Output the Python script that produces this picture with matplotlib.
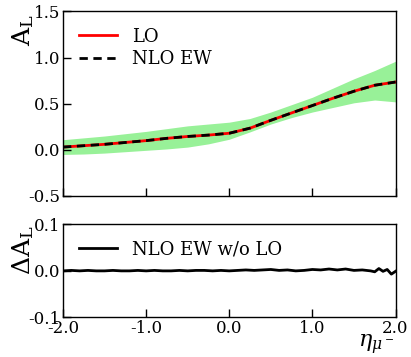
import matplotlib
matplotlib.use("Agg")
import matplotlib.pyplot as plt

# rapidity grid and asymmetry values
eta = [-2.0, -1.75, -1.5, -1.25, -1.0, -0.75, -0.5, -0.25, 0.0,
       0.25, 0.5, 0.75, 1.0, 1.25, 1.5, 1.75, 2.0]
a_lo = [0.030, 0.045, 0.060, 0.080, 0.100, 0.125, 0.145, 0.160, 0.180,
        0.235, 0.320, 0.400, 0.480, 0.560, 0.635, 0.700, 0.735]
a_nlo = [0.030, 0.045, 0.060, 0.080, 0.100, 0.125, 0.145, 0.160, 0.180,
         0.235, 0.320, 0.400, 0.480, 0.560, 0.635, 0.700, 0.735]
band_hi = [0.110, 0.130, 0.150, 0.175, 0.200, 0.230, 0.260, 0.280, 0.300,
           0.340, 0.410, 0.490, 0.570, 0.670, 0.770, 0.860, 0.960]
band_lo = [-0.050, -0.045, -0.035, -0.020, -0.005, 0.010, 0.030, 0.065, 0.115,
           0.195, 0.280, 0.350, 0.410, 0.460, 0.510, 0.540, 0.520]

# difference NLO EW - LO
eta_d = [-2.0, -1.9, -1.8, -1.7, -1.6, -1.5, -1.4, -1.3, -1.2, -1.1, -1.0,
         -0.9, -0.8, -0.7, -0.6, -0.5, -0.4, -0.3, -0.2, -0.1, 0.0,
         0.1, 0.2, 0.3, 0.4, 0.5, 0.6, 0.7, 0.8, 0.9, 1.0,
         1.1, 1.2, 1.3, 1.4, 1.5, 1.6, 1.7, 1.75, 1.8, 1.85, 1.9, 1.95, 2.0]
d_nlo = [0.000, 0.001, 0.000, 0.001, 0.000, 0.000, 0.001, 0.000, 0.000, 0.001, 0.000,
         0.001, 0.000, 0.000, 0.001, 0.000, 0.001, 0.001, 0.000, 0.001, 0.000,
         0.001, 0.002, 0.001, 0.002, 0.003, 0.001, 0.002, 0.000, 0.001, 0.003,
         0.002, 0.004, 0.002, 0.004, 0.001, 0.002, 0.000, -0.002, 0.005, -0.001, 0.003, -0.007, -0.001]

plt.rcParams['font.family'] = 'DejaVu Serif'
plt.rcParams['mathtext.fontset'] = 'dejavuserif'

fig = plt.figure(figsize=(4.11, 3.57), dpi=100)
ax1 = fig.add_axes([0.1533, 0.451, 0.809, 0.517])
ax2 = fig.add_axes([0.1533, 0.111, 0.809, 0.2605])

ax1.fill_between(eta, band_lo, band_hi, color='#98f198', lw=0)
ax1.plot(eta, a_lo, color='red', lw=2, label='LO')
ax1.plot(eta, a_nlo, color='black', lw=2, ls=(0, (3, 2)), label='NLO EW')
ax1.set_xlim(-2, 2)
ax1.set_ylim(-0.5, 1.5)
ax1.set_yticks([-0.5, 0.0, 0.5, 1.0, 1.5])
ax1.set_yticklabels(['-0.5', '0.0', '0.5', '1.0', '1.5'])
ax1.set_xticks([-2, -1, 0, 1, 2])
ax1.tick_params(labelbottom=False)
ax1.legend(loc='upper left', frameon=False, fontsize=13, handlelength=2.1,
           borderaxespad=0.5, labelspacing=0.25)
ax1.set_ylabel(r'$\mathrm{A_L}$', fontsize=18, loc='top')
ax1.yaxis.set_label_coords(-0.08, 0.985)

ax2.plot(eta_d, d_nlo, color='black', lw=2, label='NLO EW w/o LO')
ax2.set_xlim(-2, 2)
ax2.set_ylim(-0.1, 0.1)
ax2.set_yticks([-0.1, 0.0, 0.1])
ax2.set_yticklabels(['-0.1', '0.0', '0.1'])
ax2.set_xticks([-2, -1, 0, 1, 2])
ax2.set_xticklabels(['-2.0', '-1.0', '0.0', '1.0', '2.0'])
ax2.legend(loc='upper left', frameon=False, fontsize=13, handlelength=2.1,
           borderaxespad=0.5)
ax2.set_ylabel(r'$\Delta\mathrm{A_L}$', fontsize=18, loc='top')
ax2.yaxis.set_label_coords(-0.08, 0.99)
ax2.set_xlabel(r'$\eta_{\mu^-}$', fontsize=16, loc='right')
ax2.xaxis.set_label_coords(0.995, -0.17)

for ax in (ax1, ax2):
    ax.tick_params(direction='in', length=6, width=1, labelsize=12, pad=2)
    for s in ax.spines.values():
        s.set_linewidth(1)

fig.savefig('out.png', dpi=100)
